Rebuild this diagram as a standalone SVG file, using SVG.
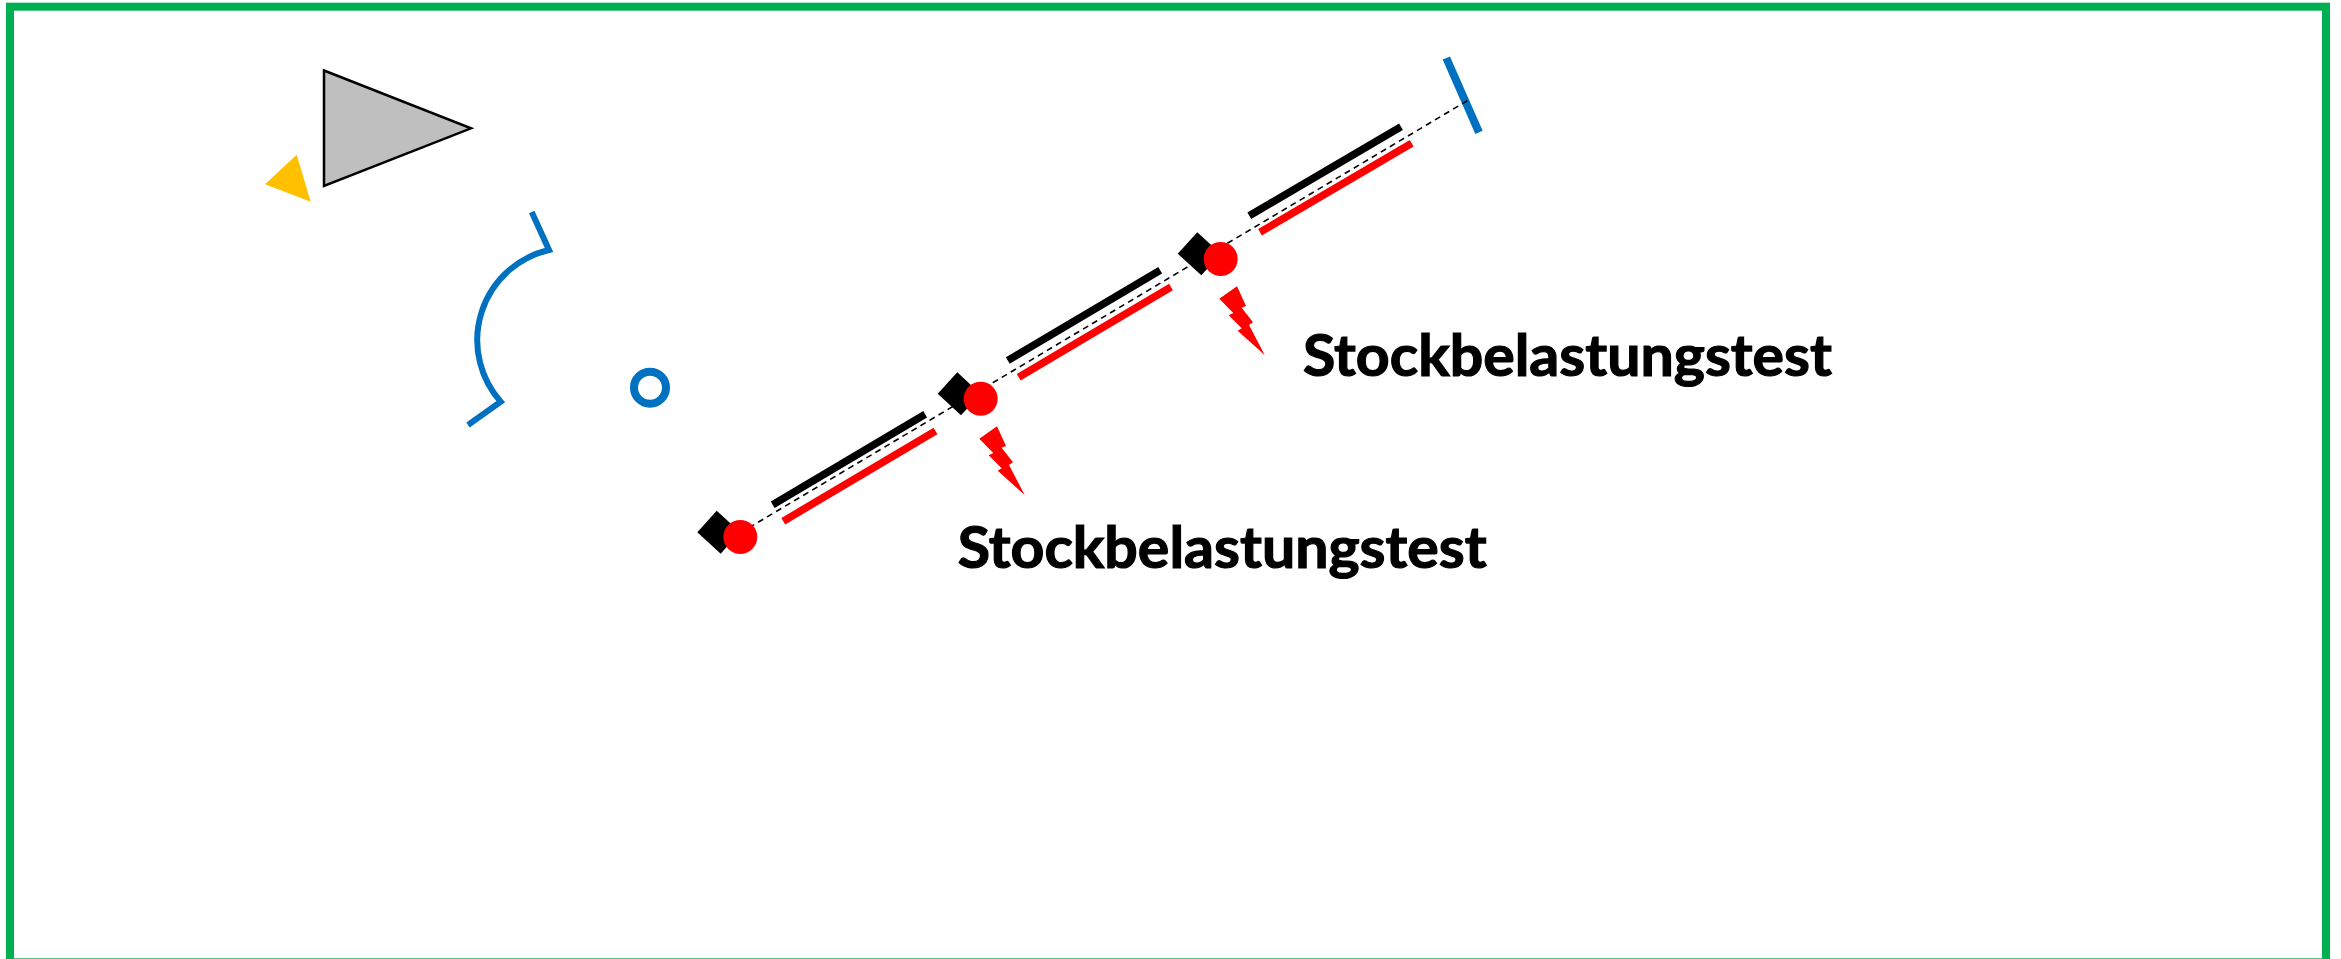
<svg xmlns="http://www.w3.org/2000/svg" width="2341" height="959" viewBox="0 0 2341 959">
<style>
.frame{fill:none;stroke:#00B050;stroke-width:8}
.blue{fill:none;stroke:#0070C0;stroke-miterlimit:10}
.bk{stroke:#000;stroke-width:7.5;fill:none}
.rd{stroke:#F00;stroke-width:7.5;fill:none}
.dash{stroke:#000;stroke-width:1.6;stroke-dasharray:6 4.5;fill:none}
.lbl{font-family:"Lato","Liberation Sans",sans-serif;font-weight:700;font-size:58px;fill:#000;stroke:#000;stroke-width:1.2}
</style>
<defs>
<polygon id="bolt" points="997,426.3 1006,446 1001.7,447.7 1013,462.3 1009,465 1024.7,495 997.7,470.7 1001.7,468.3 988.7,455.3 993.3,453 979.3,438.7" fill="#F00"/>
</defs>
<rect width="2341" height="959" fill="#fff"/>
<rect id="frame" class="frame" x="10" y="6.7" width="2316" height="955.6"/>
<g id="prism"><polygon points="324,70.5 471,128.3 324,186" fill="#BFBFBF" stroke="#000" stroke-width="2.5"/></g>
<g id="source"><polygon points="296.7,154.7 265,184.3 310.7,201.7" fill="#FFC000"/></g>
<g id="mirror-curved"><path class="blue" stroke-width="6" d="M531.7,212 L549,250 A92.5,92.5 0 0 0 500.7,401.7 L468,425"/></g>
<g id="ring"><circle class="blue" stroke-width="8" cx="650" cy="387.7" r="16"/></g>
<g id="mirror-end"><line class="blue" stroke-width="8" x1="1446.3" y1="58" x2="1479" y2="132.3"/></g>
<g id="connectors">
<line class="dash" x1="740" y1="533" x2="1468" y2="100.3"/>
</g>
<g id="segment-1">
<line class="bk" x1="772.7" y1="504.7" x2="925.2" y2="414.3"/>
<line class="rd" x1="783.3" y1="521.2" x2="935.5" y2="431"/>
</g>
<g id="segment-2">
<line class="bk" x1="1007.8" y1="360.5" x2="1160.2" y2="270.3"/>
<line class="rd" x1="1018.7" y1="377.3" x2="1171" y2="287"/>
</g>
<g id="segment-3">
<line class="bk" x1="1249.3" y1="215.7" x2="1401" y2="126.7"/>
<line class="rd" x1="1260" y1="232.3" x2="1411.7" y2="143.3"/>
</g>
<g id="node-1">
<polygon points="716.7,510.7 697.3,532.3 720.7,553.7 740,532"/>
<circle cx="740.3" cy="537" r="17" fill="#F00"/>
</g>
<g id="node-2">
<polygon points="957.3,372.3 937.7,393.7 961,415.3 980.6,394"/>
<circle cx="980.7" cy="398.7" r="17" fill="#F00"/>
</g>
<g id="node-3">
<polygon points="1197.3,232.3 1177.7,253.7 1201.3,275.3 1221,254"/>
<circle cx="1220.7" cy="259" r="17" fill="#F00"/>
</g>
<g id="bolt-1"><use href="#bolt"/></g>
<g id="bolt-2"><use href="#bolt" x="240" y="-140"/></g>
<g id="label-1"><text class="lbl" x="1303" y="375.7" textLength="529" lengthAdjust="spacingAndGlyphs">Stockbelastungstest</text></g>
<g id="label-2"><text class="lbl" x="957.7" y="567.7" textLength="529" lengthAdjust="spacingAndGlyphs">Stockbelastungstest</text></g>
</svg>
